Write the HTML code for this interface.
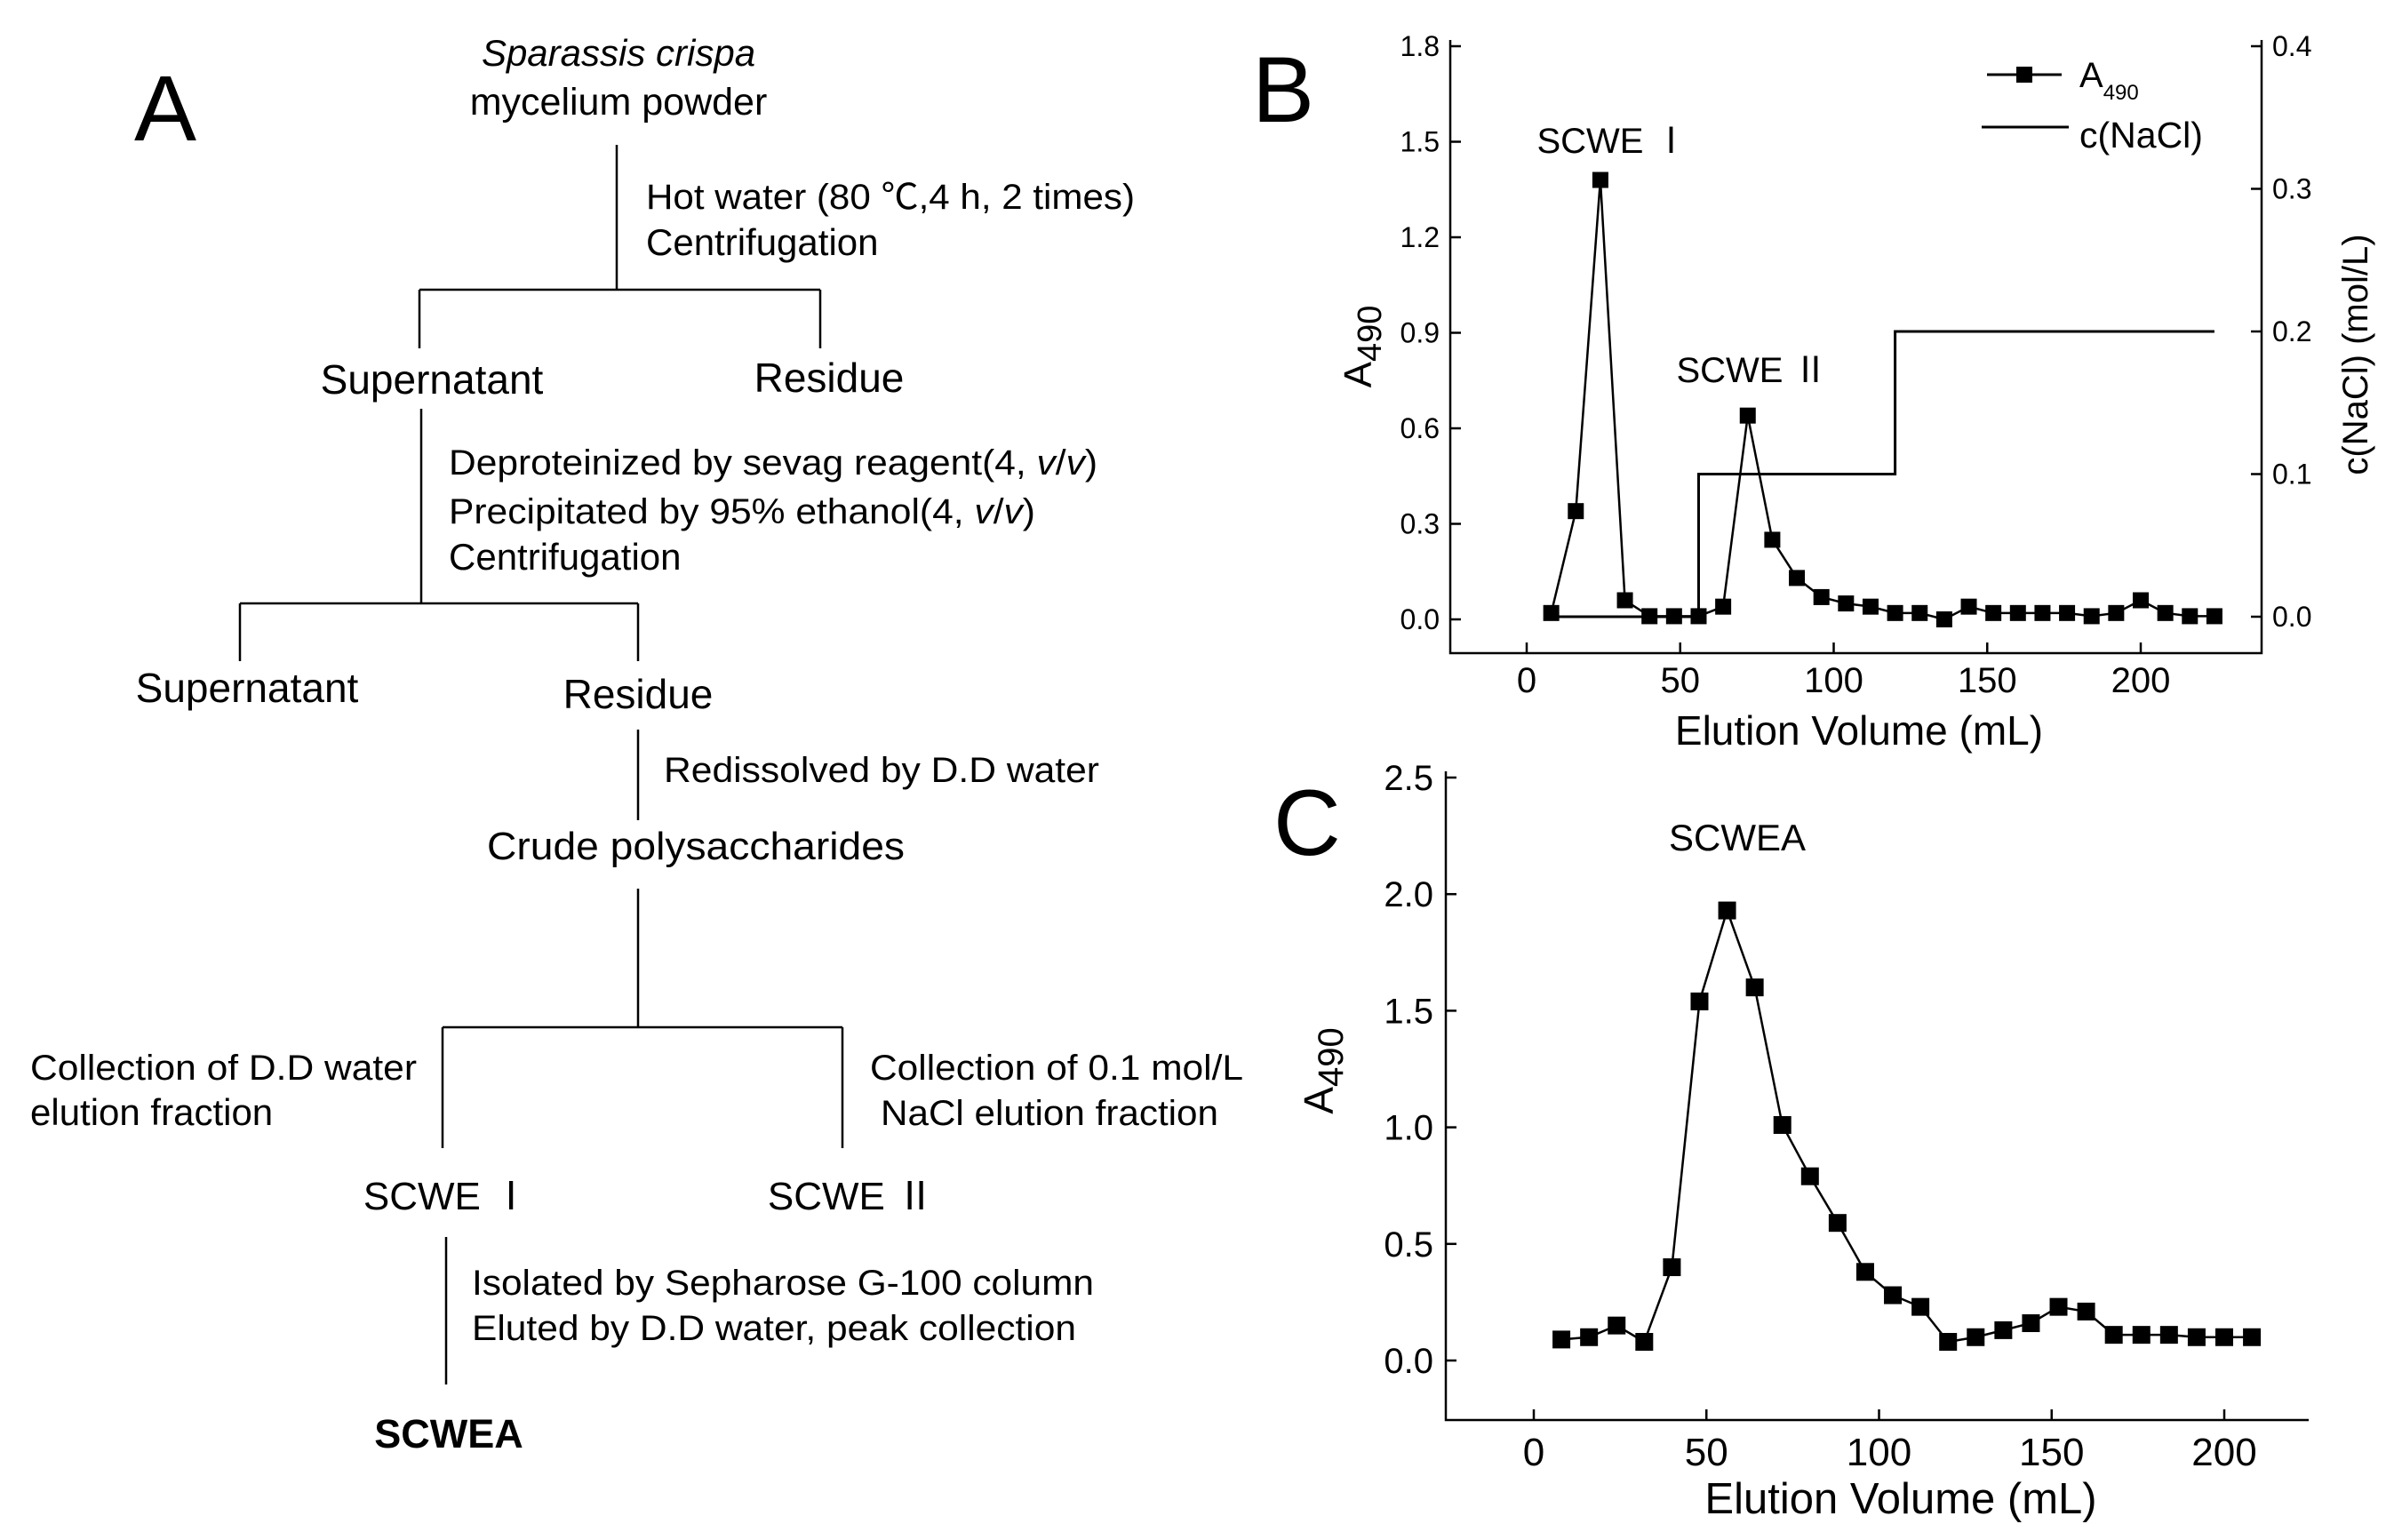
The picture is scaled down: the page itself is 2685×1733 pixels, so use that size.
<!DOCTYPE html>
<html><head><meta charset="utf-8">
<style>
html,body{margin:0;padding:0;background:#fff;}
svg{display:block;}
text{font-family:"Liberation Sans","Noto Sans CJK SC",sans-serif;fill:#000;}
</style></head>
<body>
<svg id="fig" width="2685" height="1733" viewBox="0 0 2685 1733" xmlns="http://www.w3.org/2000/svg">
<rect width="2685" height="1733" fill="#fff"/>
<g id="panelA" stroke="#000" stroke-width="2.5">
  <text x="151" y="158" font-size="105" stroke="none">A</text>
  <text x="696" y="74" font-size="42" font-style="italic" text-anchor="middle" stroke="none">Sparassis crispa</text>
  <text x="696" y="129" font-size="43" text-anchor="middle" stroke="none">mycelium powder</text>
  <line x1="694" y1="163" x2="694" y2="326"/>
  <line x1="472" y1="326" x2="923" y2="326"/>
  <line x1="472" y1="326" x2="472" y2="392"/>
  <line x1="923" y1="326" x2="923" y2="392"/>
  <text x="727" y="235" font-size="40" textLength="550" lengthAdjust="spacingAndGlyphs" stroke="none">Hot water (80 ℃,4 h, 2 times)</text>
  <text x="727" y="287" font-size="42" stroke="none">Centrifugation</text>
  <text x="486" y="443" font-size="46" text-anchor="middle" stroke="none">Supernatant</text>
  <text x="933" y="441" font-size="46" text-anchor="middle" stroke="none">Residue</text>
  <line x1="474" y1="460" x2="474" y2="679"/>
  <text x="505" y="534" font-size="40" textLength="730" lengthAdjust="spacingAndGlyphs" stroke="none">Deproteinized by sevag reagent(4, <tspan font-style="italic">v</tspan>/<tspan font-style="italic">v</tspan>)</text>
  <text x="505" y="589" font-size="40" textLength="660" lengthAdjust="spacingAndGlyphs" stroke="none">Precipitated by 95% ethanol(4, <tspan font-style="italic">v</tspan>/<tspan font-style="italic">v</tspan>)</text>
  <text x="505" y="641" font-size="42" stroke="none">Centrifugation</text>
  <line x1="270" y1="679" x2="718" y2="679"/>
  <line x1="270" y1="679" x2="270" y2="744"/>
  <line x1="718" y1="679" x2="718" y2="744"/>
  <text x="278" y="790" font-size="46" text-anchor="middle" stroke="none">Supernatant</text>
  <text x="718" y="797" font-size="46" text-anchor="middle" stroke="none">Residue</text>
  <line x1="718" y1="821" x2="718" y2="923"/>
  <text x="747" y="880" font-size="40" textLength="490" lengthAdjust="spacingAndGlyphs" stroke="none">Redissolved by D.D water</text>
  <text x="783" y="967" font-size="44" text-anchor="middle" textLength="470" lengthAdjust="spacingAndGlyphs" stroke="none">Crude polysaccharides</text>
  <line x1="718" y1="1000" x2="718" y2="1156"/>
  <line x1="498" y1="1156" x2="948" y2="1156"/>
  <line x1="498" y1="1156" x2="498" y2="1292"/>
  <line x1="948" y1="1156" x2="948" y2="1292"/>
  <text x="34" y="1215" font-size="40" textLength="435" lengthAdjust="spacingAndGlyphs" stroke="none">Collection of D.D water</text>
  <text x="34" y="1266" font-size="42" stroke="none">elution fraction</text>
  <text x="979" y="1215" font-size="40" textLength="420" lengthAdjust="spacingAndGlyphs" stroke="none">Collection of 0.1 mol/L</text>
  <text x="991" y="1266" font-size="40" textLength="380" lengthAdjust="spacingAndGlyphs" stroke="none">NaCl elution fraction</text>
  <text x="503" y="1361" font-size="44" text-anchor="middle" stroke="none">SCWE Ⅰ</text>
  <text x="958" y="1361" font-size="44" text-anchor="middle" stroke="none">SCWE Ⅱ</text>
  <line x1="502" y1="1392" x2="502" y2="1558"/>
  <text x="531" y="1457" font-size="40" textLength="700" lengthAdjust="spacingAndGlyphs" stroke="none">Isolated by Sepharose G-100 column</text>
  <text x="531" y="1508" font-size="40" textLength="680" lengthAdjust="spacingAndGlyphs" stroke="none">Eluted by D.D water, peak collection</text>
  <text x="505" y="1629" font-size="45" font-weight="bold" text-anchor="middle" stroke="none">SCWEA</text>
</g>
<g id="panelB"></g>
<g id="panelC"></g>
</svg>
<script>
// Panel B data
const bVolumes = [8,16,24,32,40,48,56,64,72,80,88,96,104,112,120,128,136,144,152,160,168,176,184,192,200,208,216,224];
const bA490 = [0.02,0.34,1.38,0.06,0.01,0.01,0.01,0.04,0.64,0.25,0.13,0.07,0.05,0.04,0.02,0.02,0.0,0.04,0.02,0.02,0.02,0.02,0.01,0.02,0.06,0.02,0.01,0.01];
const bNaClVolumes = [8,56,56,120,120,224];
const bNaClConc = [0,0,0.1,0.1,0.2,0.2];
const bYTicks = [0.0,0.3,0.6,0.9,1.2,1.5,1.8];
const bYTickLabels = ["0.0","0.3","0.6","0.9","1.2","1.5","1.8"];
const bRTicks = [0.0,0.1,0.2,0.3,0.4];
const bRTickLabels = ["0.0","0.1","0.2","0.3","0.4"];
const bXTicks = [0,50,100,150,200];
const bXTickLabels = ["0","50","100","150","200"];
// Panel C data
const cVolumes = [8,16,24,32,40,48,56,64,72,80,88,96,104,112,120,128,136,144,152,160,168,176,184,192,200,208];
const cA490 = [0.09,0.10,0.15,0.08,0.40,1.54,1.93,1.60,1.01,0.79,0.59,0.38,0.28,0.23,0.08,0.10,0.13,0.16,0.23,0.21,0.11,0.11,0.11,0.10,0.10,0.10];
const cYTicks = [0.0,0.5,1.0,1.5,2.0,2.5];
const cYTickLabels = ["0.0","0.5","1.0","1.5","2.0","2.5"];
const cXTicks = [0,50,100,150,200];
const cXTickLabels = ["0","50","100","150","200"];

const NS = "http://www.w3.org/2000/svg";
function mk(parent, tag, attrs, txt){
  const e = document.createElementNS(NS, tag);
  for (const k in attrs) e.setAttribute(k, attrs[k]);
  if (txt !== undefined) e.textContent = txt;
  parent.appendChild(e);
  return e;
}
function lin(d0,d1,r0,r1){ return v => r0 + (v-d0)*(r1-r0)/(d1-d0); }

// ---------- Panel B ----------
(function(){
  const g = document.getElementById('panelB');
  const xs = lin(0,200,1718,2409);
  const ys = lin(0,1.8,697,52);
  const yr = lin(0,0.4,694,52);
  const L=1632, R=2545, B=735, T=45;
  let el;
  el = mk(g,'text',{x:1409,y:137,'font-size':105});
  el.textContent='B';
  
  
  el = mk(g,'path',{d:`M${L} ${T} V${B} H${R} V${T}`,fill:'none',stroke:'#000','stroke-width':2.5});
  
  
  bYTicks.forEach((v,i)=>{
    const y=ys(v);
    el = mk(g,'line',{x1:L,y1:y,x2:L+12,y2:y,stroke:'#000','stroke-width':2.5});
    
    
    el = mk(g,'text',{x:L-12,y:y+11,'font-size':32,'text-anchor':'end'},bYTickLabels[i]);
    
    
  });
  bRTicks.forEach((v,i)=>{
    const y=yr(v);
    el = mk(g,'line',{x1:R-12,y1:y,x2:R,y2:y,stroke:'#000','stroke-width':2.5});
    
    
    el = mk(g,'text',{x:R+12,y:y+11,'font-size':32},bRTickLabels[i]);
    
    
  });
  bXTicks.forEach((v,i)=>{
    const x=xs(v);
    el = mk(g,'line',{x1:x,y1:B-12,x2:x,y2:B,stroke:'#000','stroke-width':2.5});
    
    
    el = mk(g,'text',{x:x,y:779,'font-size':40,'text-anchor':'middle'},bXTickLabels[i]);
    
    
  });
  el = mk(g,'text',{x:2092,y:838,'font-size':46,'text-anchor':'middle'},'Elution Volume (mL)');
  
  
  el = mk(g,'text',{transform:'translate(1543,390) rotate(-90)','font-size':44,'text-anchor':'middle'});
  el.innerHTML='A<tspan dy="11" font-size="38">490</tspan>';
  
  
  el = mk(g,'text',{transform:'translate(2664,399) rotate(-90)','font-size':40,'text-anchor':'middle'},'c(NaCl) (mol/L)');
  
  
  el = mk(g,'polyline',{points:bNaClVolumes.map((v,i)=>xs(v)+','+yr(bNaClConc[i])).join(' '),fill:'none',stroke:'#000','stroke-width':3});
  
  
  el = mk(g,'polyline',{points:bVolumes.map((v,i)=>xs(v)+','+ys(bA490[i])).join(' '),fill:'none',stroke:'#000','stroke-width':2.5});
  
  
  bVolumes.forEach((v,i)=>{
    const m = mk(g,'rect',{x:xs(v)-9,y:ys(bA490[i])-9,width:18,height:18,fill:'#000'});
    
    
  });
  el = mk(g,'text',{x:1815,y:172,'font-size':40,'text-anchor':'middle'},'SCWE Ⅰ');
  
  
  el = mk(g,'text',{x:1972,y:430,'font-size':40,'text-anchor':'middle'},'SCWE Ⅱ');
  
  
  // legend
  el = mk(g,'line',{x1:2236,y1:84,x2:2320,y2:84,stroke:'#000','stroke-width':3});
  
  
  el = mk(g,'rect',{x:2269,y:75,width:18,height:18,fill:'#000'});
  
  
  el = mk(g,'text',{x:2340,y:98,'font-size':40});
  el.innerHTML='A<tspan dy="14" font-size="24">490</tspan>';
  
  
  el = mk(g,'line',{x1:2230,y1:143,x2:2328,y2:143,stroke:'#000','stroke-width':3});
  
  
  el = mk(g,'text',{x:2340,y:166,'font-size':41},'c(NaCl)');
  
  
})();

// ---------- Panel C ----------
(function(){
  const g = document.getElementById('panelC');
  const xs = lin(0,200,1726,2503);
  const ys = lin(0,2.5,1531,875);
  const L=1627, R=2598, B=1598;
  let el;
  el = mk(g,'text',{x:1433,y:962,'font-size':105},'C');
  
  
  el = mk(g,'path',{d:`M${L} 868 V${B} H${R}`,fill:'none',stroke:'#000','stroke-width':2.5});
  
  
  cYTicks.forEach((v,i)=>{
    const y=ys(v);
    el = mk(g,'line',{x1:L,y1:y,x2:L+12,y2:y,stroke:'#000','stroke-width':2.5});
    
    
    el = mk(g,'text',{x:L-14,y:y+14,'font-size':40,'text-anchor':'end'},cYTickLabels[i]);
    
    
  });
  cXTicks.forEach((v,i)=>{
    const x=xs(v);
    el = mk(g,'line',{x1:x,y1:B-12,x2:x,y2:B,stroke:'#000','stroke-width':2.5});
    
    
    el = mk(g,'text',{x:x,y:1649,'font-size':44,'text-anchor':'middle'},cXTickLabels[i]);
    
    
  });
  el = mk(g,'text',{x:2139,y:1703,'font-size':49,'text-anchor':'middle'},'Elution Volume (mL)');
  
  
  el = mk(g,'text',{transform:'translate(1500,1205) rotate(-90)','font-size':46,'text-anchor':'middle'});
  el.innerHTML='A<tspan dy="11" font-size="40">490</tspan>';
  
  
  el = mk(g,'polyline',{points:cVolumes.map((v,i)=>xs(v)+','+ys(cA490[i])).join(' '),fill:'none',stroke:'#000','stroke-width':2.5});
  
  
  cVolumes.forEach((v,i)=>{
    const m = mk(g,'rect',{x:xs(v)-10,y:ys(cA490[i])-10,width:20,height:20,fill:'#000'});
    
    
  });
  el = mk(g,'text',{x:1955,y:957,'font-size':42,'text-anchor':'middle'},'SCWEA');
  
  
})();
</script>
</body></html>
